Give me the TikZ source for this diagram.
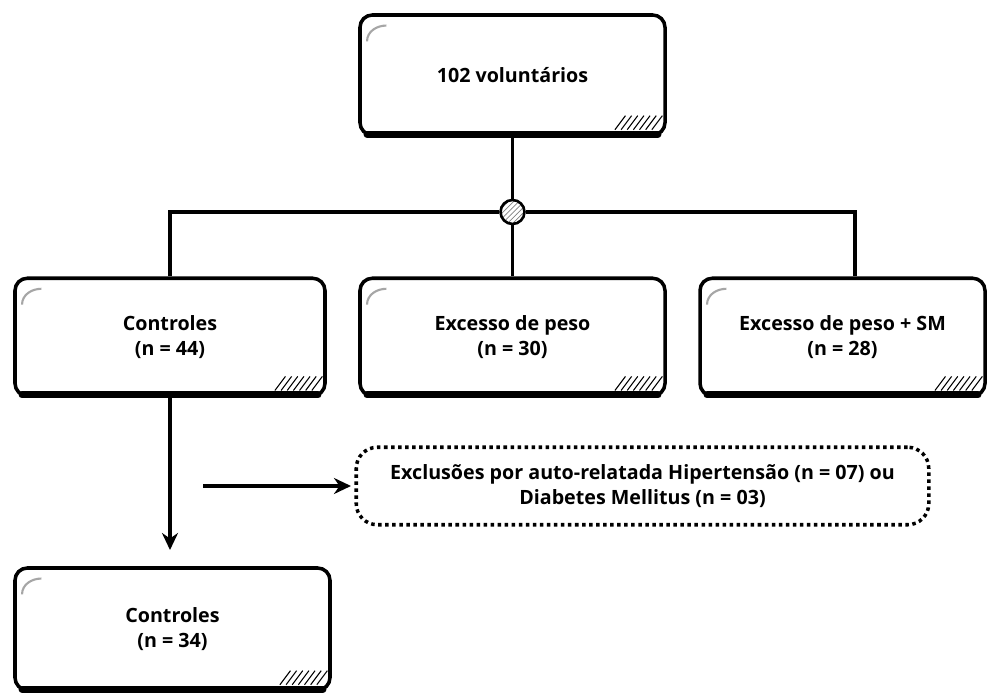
\documentclass[tikz,border=0pt]{standalone}
\usepackage{fontspec}
\setmainfont{Open Sans}
\usetikzlibrary{arrows.meta,patterns}

\begin{document}
\begin{tikzpicture}[font=\fontsize{11.2}{14.2}\selectfont\bfseries,
  sketchbox/.style={draw, line width=2pt, rounded corners=7pt, fill=white,
    align=center, minimum height=2.35cm},
  dotbox/.style={draw, line width=2pt, dotted, rounded corners=12pt,
    align=center, minimum width=11.45cm, minimum height=1.55cm},
  link/.style={line width=2pt},
  flow/.style={line width=2pt, -{Stealth[length=3.4mm,width=3.2mm]}}]
\useasboundingbox (0,0) rectangle (19.8,13.88);

% --- boxes ---
\node[sketchbox, minimum width=6.1cm, minimum height=2.4cm] (vol) at (10.25,12.38) {102 voluntários};
\node[sketchbox, minimum width=6.2cm] (ctrl) at (3.4,7.14) {Controles\\(n = 44)};
\node[sketchbox, minimum width=6.1cm] (exc) at (10.25,7.14) {Excesso de peso\\(n = 30)};
\node[sketchbox, minimum width=5.7cm] (sm) at (16.85,7.14) {Excesso de peso + SM\\(n = 28)};
\node[sketchbox, minimum width=6.3cm, minimum height=2.44cm] (ctrlf) at (3.45,1.30) {Controles\\(n = 34)};
\node[dotbox] (excl) at (12.85,4.16) {Exclusões por auto-relatada Hipertensão (n = 07) ou\\Diabetes Mellitus (n = 03)};

% --- sketchy details on the solid boxes ---
\foreach \b in {vol,ctrl,exc,sm,ctrlf}{
  \draw[line width=4pt, line cap=round] ([xshift=5pt,yshift=1.5pt]\b.south west) -- ([xshift=-5pt,yshift=1.5pt]\b.south east);
  \draw[gray!70, line width=1.2pt] ([xshift=5pt,yshift=-16pt]\b.north west) to[out=90,in=180] ++(11pt,9pt);
  \foreach \i in {1,...,7}
    \draw[line width=0.6pt] ([xshift=-5pt-\i*3.5pt,yshift=4pt]\b.south east) -- ++(6pt,8pt);
}

% --- split hub ---
\node[draw, circle, line width=1.5pt, minimum size=0.48cm, inner sep=0pt, fill=white,
  pattern=north east lines, pattern color=gray] (hub) at (10.25,9.64) {};
\coordinate (lft) at (ctrl.north |- hub);
\coordinate (rgt) at (17.1,9.64);

\draw[link] (vol.south) -- (hub.north);
\draw[link] (hub.west) -- (lft) -- (ctrl.north);
\draw[link] (hub.east) -- (rgt) -- (rgt |- sm.north);
\draw[link] (hub.south) -- (exc.north);

% --- exclusions ---
\coordinate (down) at (3.4,2.88);
\coordinate (side) at (4.06,4.16);
\draw[flow] (ctrl.south) -- (down);
\draw[flow] (side) -- ([xshift=-2pt]excl.west);
\end{tikzpicture}
\end{document}
